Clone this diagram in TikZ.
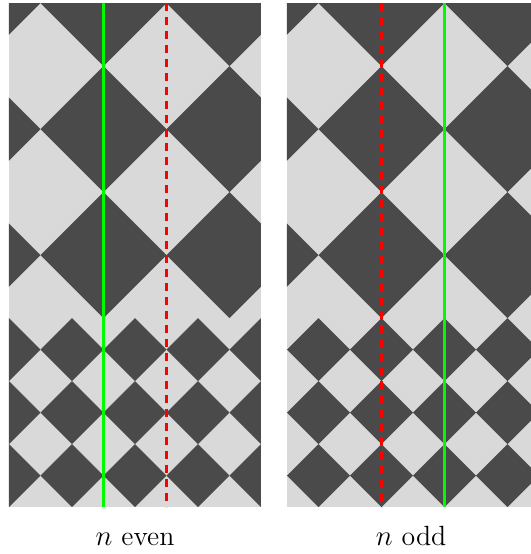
\documentclass[tikz,border=0pt]{standalone}
\definecolor{darkc}{RGB}{74,74,74}
\definecolor{lightc}{RGB}{217,217,217}
\definecolor{greenc}{RGB}{0,250,0}
\definecolor{redc}{RGB}{255,0,0}
\tikzset{
  darktile/.style={fill=darkc},
  greenline/.style={draw=greenc, line width=1.7pt},
  redline/.style={draw=redc, line width=1.7pt, dash pattern=on 4pt off 3pt},
  caption/.style={anchor=base, font=\fontsize{13.9}{16}\selectfont, inner sep=0pt}
}
\begin{document}
\begin{tikzpicture}[x=0.5pt,y=-0.5pt]
\useasboundingbox (0,0) rectangle (531,554);
% ---------- left panel (n even) ----------
\begin{scope}[shift={(9,3)}, x=31.5pt, y=-31.5pt]
  \begin{scope}
    \clip (0,0) rectangle (4,8);
    \fill[lightc] (0,0) rectangle (4,8);
    \begin{scope}
      \clip (0,-0.1) rectangle (4,5);
      \foreach \cx in {-0.5,1.5,3.5,5.5}
        \foreach \cy in {0,2,4}
          \fill[darktile] (\cx-1,\cy) -- (\cx,\cy-1) -- (\cx+1,\cy) -- (\cx,\cy+1) -- cycle;
    \end{scope}
    \begin{scope}
      \clip (0,5) rectangle (4,8.1);
      \foreach \cx in {-1,0,1,2,3,4,5}
        \foreach \cy in {5.5,6.5,7.5}
          \fill[darktile] (\cx-0.5,\cy) -- (\cx,\cy-0.5) -- (\cx+0.5,\cy) -- (\cx,\cy+0.5) -- cycle;
    \end{scope}
  \end{scope}
  \coordinate (lgt) at (1.5,0); \coordinate (lgb) at (1.5,8);
  \coordinate (lrt) at (2.5,0); \coordinate (lrb) at (2.5,8);
  \draw[greenline] (lgt) -- (lgb);
  \draw[redline] (lrt) -- (lrb);
  \node[caption] (leven) at (2,8.615) {$n$ even};
\end{scope}
% ---------- right panel (n odd) ----------
\begin{scope}[shift={(287,3)}, x=31.5pt, y=-31.5pt]
  \begin{scope}
    \clip (0,0) rectangle (4,8);
    \fill[lightc] (0,0) rectangle (4,8);
    \begin{scope}
      \clip (0,-0.1) rectangle (4,5);
      \foreach \cx in {-0.5,1.5,3.5,5.5}
        \foreach \cy in {0,2,4}
          \fill[darktile] (\cx-1,\cy) -- (\cx,\cy-1) -- (\cx+1,\cy) -- (\cx,\cy+1) -- cycle;
    \end{scope}
    \begin{scope}
      \clip (0,5) rectangle (4,8.1);
      \foreach \cx in {-0.5,0.5,1.5,2.5,3.5,4.5}
        \foreach \cy in {5.5,6.5,7.5}
          \fill[darktile] (\cx-0.5,\cy) -- (\cx,\cy-0.5) -- (\cx+0.5,\cy) -- (\cx,\cy+0.5) -- cycle;
    \end{scope}
  \end{scope}
  \coordinate (rrt) at (1.5,0); \coordinate (rrb) at (1.5,8);
  \coordinate (rgt) at (2.5,0); \coordinate (rgb) at (2.5,8);
  \draw[redline] (rrt) -- (rrb);
  \draw[greenline] (rgt) -- (rgb);
  \node[caption] (rodd) at (1.97,8.615) {$n$ odd};
\end{scope}
\end{tikzpicture}
\end{document}
